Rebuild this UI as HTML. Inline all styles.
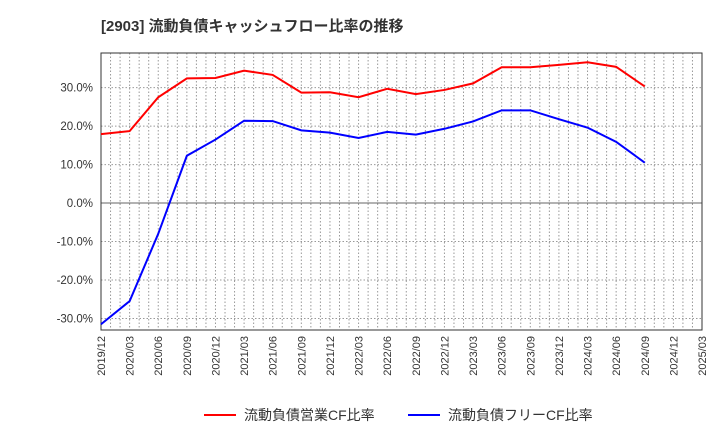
<!DOCTYPE html>
<html><head><meta charset="utf-8"><style>
body{margin:0;background:#fff;font-family:"Liberation Sans","Noto Sans CJK JP",sans-serif;}
svg text{font-family:"Liberation Sans","Noto Sans CJK JP",sans-serif;}
</style></head><body>
<svg id="chart" width="720" height="440" xmlns="http://www.w3.org/2000/svg">
<text x="101" y="31" font-size="15" font-weight="bold" fill="#333">[2903]  流動負債キャッシュフロー比率の推移</text>
<g id="grid"></g><g id="axes"></g><g id="series"></g>
<g>
<line x1="204" y1="415" x2="236" y2="415" stroke="#f00" stroke-width="2"/>
<text x="244" y="420" font-size="14" fill="#333">流動負債営業CF比率</text>
<line x1="408" y1="415" x2="440" y2="415" stroke="#00f" stroke-width="2"/>
<text x="448" y="420" font-size="14" fill="#333">流動負債フリーCF比率</text>
</g>
</svg>
<script>
const categories=["2019/12","2020/03","2020/06","2020/09","2020/12","2021/03","2021/06","2021/09","2021/12","2022/03","2022/06","2022/09","2022/12","2023/03","2023/06","2023/09","2023/12","2024/03","2024/06","2024/09"];
const tickLabels=["2019/12","2020/03","2020/06","2020/09","2020/12","2021/03","2021/06","2021/09","2021/12","2022/03","2022/06","2022/09","2022/12","2023/03","2023/06","2023/09","2023/12","2024/03","2024/06","2024/09","2024/12","2025/03"];
const operatingCF=[17.9,18.7,27.5,32.4,32.5,34.4,33.3,28.7,28.8,27.5,29.7,28.3,29.4,31.1,35.3,35.3,35.9,36.6,35.4,30.3];
const freeCF=[-31.5,-25.5,-8,12.3,16.5,21.4,21.3,18.9,18.3,16.9,18.5,17.8,19.3,21.2,24.1,24.1,21.8,19.6,15.9,10.5];
const yTicks=[30,20,10,0,-10,-20,-30];
const L=101,R=702,T=53,B=330,yMin=-33,yMax=39;
const NS="http://www.w3.org/2000/svg";
const xs=i=>L+i*(R-L)/(tickLabels.length-1);
const ys=v=>T+(yMax-v)/(yMax-yMin)*(B-T);
function mk(t,a,p){const e=document.createElementNS(NS,t);for(const k in a)e.setAttribute(k,a[k]);p.appendChild(e);return e;}
const grid=document.getElementById('grid'),axes=document.getElementById('axes'),ser=document.getElementById('series');
const months=(tickLabels.length-1)*3;
for(let m=1;m<months;m++){const x=L+m*(R-L)/months;const l=mk('line',{x1:x,x2:x,y1:T,y2:B,stroke:'#999','stroke-dasharray':'1.5,2','stroke-width':1},grid);

}
yTicks.forEach(v=>{const y=ys(v);const l=mk('line',{x1:L,x2:R,y1:y,y2:y,stroke:v===0?'#666':'#999','stroke-dasharray':v===0?'':'1.5,2','stroke-width':1},grid);


const t=mk('text',{x:L-8,y:y+4,'text-anchor':'end','font-size':11.5,fill:'#333'},axes);t.textContent=v.toFixed(1)+'%';

});
tickLabels.forEach((c,i)=>{const x=xs(i);const t=mk('text',{x:x+4,y:B+6,'text-anchor':'end','font-size':11,fill:'#333',transform:`rotate(-90 ${x+4} ${B+6})`},axes);t.textContent=c;

});
const fr=mk('rect',{x:L,y:T,width:R-L,height:B-T,fill:'none',stroke:'#333','stroke-width':1},axes);


function line(vals,color,name){const p=mk('polyline',{points:vals.map((v,i)=>xs(i)+','+ys(v)).join(' '),fill:'none',stroke:color,'stroke-width':2},ser);

}
line(operatingCF,'#f00','operating-cf-line');
line(freeCF,'#00f','free-cf-line');
</script>
</body></html>
